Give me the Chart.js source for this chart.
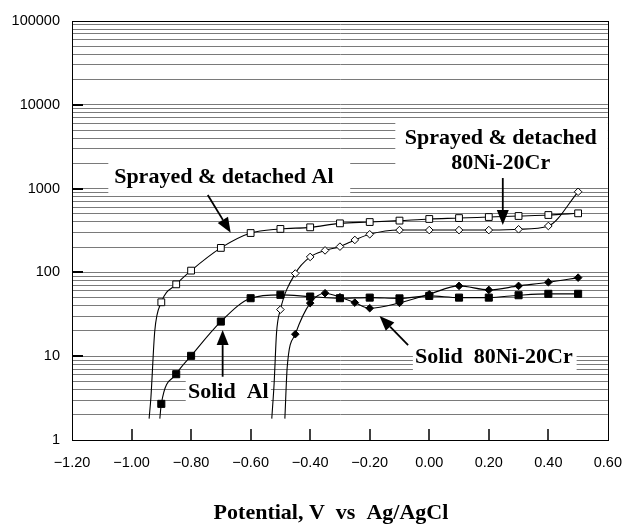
<!DOCTYPE html>
<html><head><meta charset="utf-8">
<script src="https://cdn.jsdelivr.net/npm/chart.js@4"></script>
<style>html,body{margin:0;padding:0;background:#fff}#wrap{width:636px;height:525px;position:relative}</style>
</head><body><div id="wrap"><canvas id="c"></canvas></div>
<script>
// ---- tick values ----
const xTickValues = [-1.2, -1.0, -0.8, -0.6, -0.4, -0.2, 0, 0.2, 0.4, 0.6];
const yMajorTicks = [1, 10, 100, 1000, 10000, 100000];
const yMinorSteps = [2, 3, 4, 5, 6, 7, 8, 9];
const xTitle = 'Potential, V  vs  Ag/AgCl';

// ---- series (potential V, current density) ----
const potentialX = [-0.90, -0.85, -0.80, -0.70, -0.60, -0.50, -0.40, -0.30, -0.20, -0.10, 0.00, 0.10, 0.20, 0.30, 0.40, 0.50];
const sprayedAlY = [44, 72, 105, 196, 295, 330, 345, 385, 399, 415, 434, 445, 458, 471, 484, 507];
const sprayedAlTailX = [-0.941, -0.935, -0.922];
const sprayedAlTailY = [1.8, 3.2, 20];
const solidAlY = [2.7, 6.1, 10.1, 25.9, 49.2, 54, 51.5, 49.2, 50, 49, 52.4, 50, 50, 53.4, 55.5, 55.5];
const solidAlTailX = [-0.905];
const solidAlTailY = [1.8];
const sprayedNiCrX = [-0.50, -0.45, -0.40, -0.35, -0.30, -0.25, -0.20, -0.10, 0.00, 0.10, 0.20, 0.30, 0.40, 0.50];
const sprayedNiCrY = [36, 97, 153, 183, 203, 244, 285, 320, 320, 320, 320, 327, 358, 916];
const sprayedNiCrTailX = [-0.529, -0.521, -0.513];
const sprayedNiCrTailY = [1.8, 4.8, 19];
const solidNiCrX = [-0.45, -0.40, -0.35, -0.30, -0.25, -0.20, -0.10, 0.00, 0.10, 0.20, 0.30, 0.40, 0.50];
const solidNiCrY = [18.3, 43, 56.5, 50.6, 43.6, 37.4, 43.3, 54.9, 69, 61.8, 69, 76.3, 86.6];
const solidNiCrTailX = [-0.485, -0.477];
const solidNiCrTailY = [1.8, 7.5];

// ---- annotation labels (anchored in data coordinates) ----
const noteTexts = [['Sprayed & detached Al'], ['Sprayed & detached', '80Ni-20Cr'], ['Solid  Al'], ['Solid  80Ni-20Cr']];
const noteAnchorX = [-0.690, 0.240, -0.675, 0.217];
const noteAnchorY = [[1175], [3405, 1700], [3.15], [8.23]];
const noteBoxX = [[-1.078, -0.2655], [-0.114, 0.6], [-0.818, -0.532], [-0.055, 0.495]];
const noteBoxY = [[2733, 887], [6590, 1074], [5.4, 2.55], [14.5, 6.6]];
const arrowFrom = [[-0.744, 839], [0.247, 1337], [-0.694, 5.69], [-0.071, 13.6]];
const arrowTo = [[-0.667, 298], [0.247, 368], [-0.694, 20.5], [-0.167, 30.2]];

const yGridValues = [];
yMajorTicks.forEach((m, i) => {
  yGridValues.push(m);
  if (i < yMajorTicks.length - 1) yMinorSteps.forEach(s => yGridValues.push(m * s));
});

function pts(xs, ys) { return xs.map((x, i) => ({x: x, y: ys[i]})); }
function series(label, tx, ty, xs, ys, style, fill, r) {
  const n = tx.length;
  return {
    label: label,
    data: pts(tx, ty).concat(pts(xs, ys)),
    borderColor: '#000', borderWidth: 1.1,
    pointStyle: style, pointBackgroundColor: fill, pointBorderColor: '#000', pointBorderWidth: 1,
    pointRadius: c => c.dataIndex < n ? 0 : r,
    pointHoverRadius: c => c.dataIndex < n ? 0 : r,
    cubicInterpolationMode: 'monotone', showLine: true, fill: false
  };
}

const SERIF = 'bold 22px "Liberation Serif", "Times New Roman", serif';

const decor = {
  id: 'decor',
  beforeDatasetsDraw(chart) {
    const ctx = chart.ctx, xs = chart.scales.x, ys = chart.scales.y;
    ctx.save();
    // white label boxes
    ctx.fillStyle = '#fff';
    noteBoxX.forEach((bx, i) => {
      const x1 = xs.getPixelForValue(bx[0]), x2 = xs.getPixelForValue(bx[1]);
      const y1 = ys.getPixelForValue(noteBoxY[i][0]), y2 = ys.getPixelForValue(noteBoxY[i][1]);
      ctx.fillRect(x1, y1, x2 - x1, y2 - y1);
    });
    // label text
    ctx.fillStyle = '#000';
    ctx.font = SERIF;
    ctx.textAlign = 'center';
    ctx.textBaseline = 'alphabetic';
    noteTexts.forEach((lines, i) => {
      lines.forEach((t, j) => {
        ctx.fillText(t, xs.getPixelForValue(noteAnchorX[i]), ys.getPixelForValue(noteAnchorY[i][j]));
      });
    });
    ctx.restore();
  },
  afterDatasetsDraw(chart) {
    const ctx = chart.ctx, xs = chart.scales.x, ys = chart.scales.y;
    const a = chart.chartArea;
    ctx.save();
    ctx.strokeStyle = '#000';
    ctx.fillStyle = '#000';
    // arrows
    arrowFrom.forEach((f, i) => {
      const x1 = xs.getPixelForValue(f[0]), y1 = ys.getPixelForValue(f[1]);
      const x2 = xs.getPixelForValue(arrowTo[i][0]), y2 = ys.getPixelForValue(arrowTo[i][1]);
      const ang = Math.atan2(y2 - y1, x2 - x1);
      const hl = 15, hw = 6;
      const bx = x2 - hl * Math.cos(ang), by = y2 - hl * Math.sin(ang);
      ctx.lineWidth = 1.8;
      ctx.beginPath(); ctx.moveTo(x1, y1); ctx.lineTo(bx, by); ctx.stroke();
      ctx.beginPath();
      ctx.moveTo(x2, y2);
      ctx.lineTo(bx + hw * Math.sin(ang), by - hw * Math.cos(ang));
      ctx.lineTo(bx - hw * Math.sin(ang), by + hw * Math.cos(ang));
      ctx.closePath(); ctx.fill();
    });
    // plot frame
    ctx.lineWidth = 1;
    ctx.strokeRect(Math.round(a.left) + 0.5, Math.round(a.top) + 0.5, Math.round(a.right - a.left), Math.round(a.bottom - a.top));
    // inner x tick marks
    ctx.lineWidth = 1.5;
    xTickValues.slice(1, -1).forEach(v => {
      const px = Math.round(xs.getPixelForValue(v));
      ctx.beginPath(); ctx.moveTo(px, a.bottom); ctx.lineTo(px, a.bottom - 11); ctx.stroke();
    });
    // inner y tick marks at decades
    ctx.lineWidth = 2;
    yMajorTicks.slice(1, -1).forEach(v => {
      const py = Math.round(ys.getPixelForValue(v));
      ctx.beginPath(); ctx.moveTo(a.left, py); ctx.lineTo(a.left + 11, py); ctx.stroke();
    });
    // x-axis title
    ctx.font = SERIF;
    ctx.textAlign = 'center';
    ctx.textBaseline = 'alphabetic';
    ctx.fillText(xTitle, (a.left + a.right) / 2 - 9, a.bottom + 79);
    ctx.restore();
  }
};

const TICKFONT = {family: '"Liberation Sans", Arial, sans-serif', size: 14.5};

new Chart(document.getElementById('c'), {
  type: 'scatter',
  data: {
    datasets: [
      series('Sprayed & detached Al', sprayedAlTailX, sprayedAlTailY, potentialX, sprayedAlY, 'rect', '#fff', 4.8),
      series('Solid Al', solidAlTailX, solidAlTailY, potentialX, solidAlY, 'rect', '#000', 5),
      series('Sprayed & detached 80Ni-20Cr', sprayedNiCrTailX, sprayedNiCrTailY, sprayedNiCrX, sprayedNiCrY, 'rectRot', '#fff', 3.8),
      series('Solid 80Ni-20Cr', solidNiCrTailX, solidNiCrTailY, solidNiCrX, solidNiCrY, 'rectRot', '#000', 3.8)
    ]
  },
  options: {
    responsive: true, maintainAspectRatio: false, animation: false, devicePixelRatio: 1,
    layout: {padding: {top: 21, right: 17, left: 0, bottom: 0}},
    plugins: {legend: {display: false}, tooltip: {enabled: false}, title: {display: false}},
    scales: {
      x: {
        type: 'linear', min: -1.2, max: 0.6,
        afterBuildTicks: s => { s.ticks = xTickValues.map(v => ({value: v})); },
        afterFit: s => { s.height = 85; },
        ticks: {
          autoSkip: false, maxRotation: 0, color: '#000', font: TICKFONT, padding: 14,
          callback: v => (v < -1e-9 ? '\u2212' : '') + Math.abs(v).toFixed(2)
        },
        grid: {display: false, drawTicks: false},
        border: {display: true, color: '#000', width: 1}
      },
      y: {
        type: 'logarithmic', min: 1, max: 100000,
        afterBuildTicks: s => { s.ticks = yGridValues.map(v => ({value: v})); },
        afterFit: s => { s.width = 72; },
        ticks: {
          autoSkip: false, color: '#000', font: TICKFONT, padding: 12,
          callback: v => yMajorTicks.includes(v) ? String(v) : ''
        },
        grid: {color: '#7a7a7a', lineWidth: 1, drawTicks: false},
        border: {display: true, color: '#000', width: 1}
      }
    }
  },
  plugins: [decor]
});
</script>
</body></html>
